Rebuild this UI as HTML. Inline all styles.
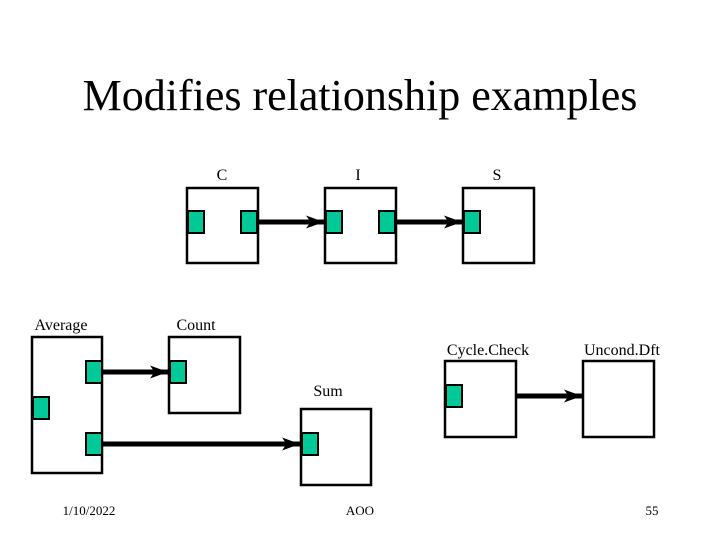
<!DOCTYPE html>
<html><head><meta charset="utf-8"><style>
body{margin:0;background:#fff;}
svg{display:block;font-family:"Liberation Serif",serif;}
</style></head><body>
<svg width="720" height="540" viewBox="0 0 720 540" xmlns="http://www.w3.org/2000/svg">
<defs><marker id="a" markerWidth="4" markerHeight="3" refX="3.6" refY="1.5" orient="auto" markerUnits="strokeWidth"><path d="M0,0.2 L3.6,1.5 L0,2.8 L0.9,1.5 Z" fill="#000"/></marker></defs>
<text x="360" y="110" font-size="44" text-anchor="middle">Modifies relationship examples</text>
<g font-size="16" text-anchor="middle">
<text x="222" y="180">C</text><text x="358" y="180">I</text><text x="497" y="180">S</text>
<text x="61" y="330">Average</text><text x="196" y="330">Count</text>
<text x="488" y="355">Cycle.Check</text><text x="622" y="355">Uncond.Dft</text>
<text x="328" y="396">Sum</text>
</g>
<g font-size="13" text-anchor="middle"><text x="89" y="515">1/10/2022</text><text x="360" y="515">AOO</text><text x="652" y="515">55</text></g>
<g fill="#fff" stroke="#000" stroke-width="2.5">
<rect x="187" y="188" width="71" height="75"/><rect x="325" y="188" width="71" height="75"/><rect x="463" y="188" width="71" height="75"/>
<rect x="32" y="337" width="70" height="136"/><rect x="169" y="337" width="71" height="76"/><rect x="301" y="409" width="70" height="76"/>
<rect x="445" y="361" width="71" height="76"/><rect x="583" y="361" width="71" height="76"/>
</g>
<g fill="#00c896" stroke="#000" stroke-width="2">
<rect x="188" y="211" width="16" height="22"/><rect x="241" y="211" width="16" height="22"/>
<rect x="326" y="211" width="16" height="22"/><rect x="379" y="211" width="16" height="22"/>
<rect x="464" y="211" width="16" height="22"/>
<rect x="86" y="361" width="16" height="22"/><rect x="33" y="397" width="16" height="22"/><rect x="86" y="433" width="16" height="22"/>
<rect x="170" y="361" width="16" height="22"/><rect x="302" y="433" width="16" height="22"/>
<rect x="446" y="385" width="16" height="22"/>
</g>
<g stroke="#000" stroke-width="5" marker-end="url(#a)">
<line x1="258" y1="222" x2="324" y2="222"/><line x1="396" y1="222" x2="462" y2="222"/>
<line x1="102" y1="372" x2="168" y2="372"/><line x1="102" y1="444" x2="300" y2="444"/>
<line x1="516" y1="396" x2="582" y2="396"/>
</g>
</svg>
</body></html>
